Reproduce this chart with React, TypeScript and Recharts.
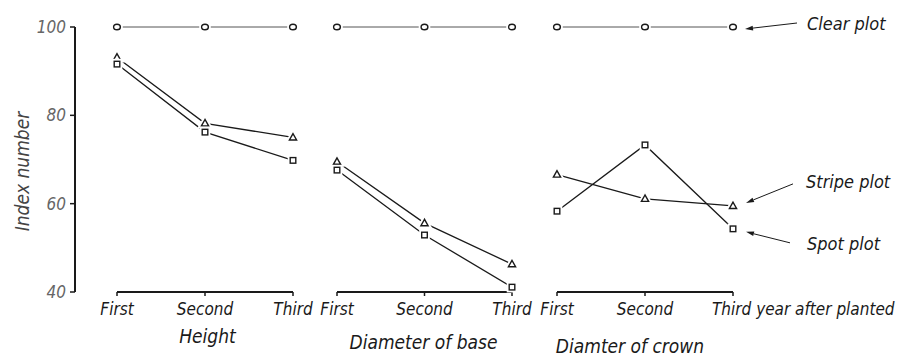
import React from "react";
import { LineChart, Line, XAxis, YAxis, ReferenceLine, LabelList } from "recharts";

const categories = ["First", "Second", "Third"];
const yTicks = [40, 60, 80, 100];

const heightClear = [100, 100, 100];
const heightStripe = [93.1, 78.2, 75.0];
const heightSpot = [91.6, 76.2, 69.8];

const baseClear = [100, 100, 100];
const baseStripe = [69.5, 55.6, 46.3];
const baseSpot = [67.6, 52.9, 41.1];

const crownClear = [100, 100, 100];
const crownStripe = [66.6, 61.1, 59.5];
const crownSpot = [58.3, 73.3, 54.3];

const panelTitles = ["Height", "Diameter of base", "Diamter of crown"];
const yLabel = "Index number";
const lastTickSuffix = "year after planted";
const seriesNames = { clear: "Clear plot", stripe: "Stripe plot", spot: "Spot plot" };

const FONT = "'DejaVu Sans Condensed', 'Liberation Sans Narrow', 'DejaVu Sans', sans-serif";
const INK = "#1a1a1a";

const rows = (clear: number[], stripe: number[], spot: number[]) =>
  categories.map((cat, i) => ({ cat, clear: clear[i], stripe: stripe[i], spot: spot[i] }));

// hollow markers with a white halo so the lines stop short of them
const marker = (kind: string) => (props: any) => {
  const { cx, cy, index } = props;
  if (cx == null || cy == null) return <g key={index} />;
  let shape: React.ReactNode;
  if (kind === "clear") {
    shape = <ellipse cx={cx} cy={cy} rx={3.4} ry={2.8} />;
  } else if (kind === "spot") {
    shape = <rect x={cx - 2.8} y={cy - 2.8} width={5.6} height={5.6} />;
  } else {
    shape = <polygon points={`${cx},${cy - 3.8} ${cx - 3.6},${cy + 2.6} ${cx + 3.6},${cy + 2.6}`} />;
  }
  return (
    <g key={index}>
      <g fill="#fff" stroke="#fff" strokeWidth={5}>{shape}</g>
      <g fill="#fff" stroke={INK} strokeWidth={1.4}>{shape}</g>
    </g>
  );
};

// arrow + name to the right of the last point in the crown panel
const arrowSpec: Record<string, { text: [number, number]; from: [number, number]; to: [number, number] }> = {
  clear: { text: [74, 3], from: [64, -4], to: [12, 2] },
  stripe: { text: [73, -18], from: [60, -22], to: [13, -3] },
  spot: { text: [74, 21], from: [57, 14], to: [13, 3] },
};

const annotation = (kind: string) => (props: any) => {
  const { x, y, index } = props;
  if (index !== categories.length - 1) return null;
  const s = arrowSpec[kind];
  const x1 = x + s.from[0], y1 = y + s.from[1];
  const x2 = x + s.to[0], y2 = y + s.to[1];
  const a = Math.atan2(y2 - y1, x2 - x1);
  const L = 8, W = 2.4;
  const bx = x2 - L * Math.cos(a), by = y2 - L * Math.sin(a);
  const px = -Math.sin(a) * W, py = Math.cos(a) * W;
  return (
    <g>
      <line x1={x1} y1={y1} x2={bx} y2={by} stroke={INK} strokeWidth={1} />
      <polygon points={`${x2},${y2} ${bx + px},${by + py} ${bx - px},${by - py}`} fill={INK} />
      <text x={x + s.text[0]} y={y + s.text[1]} fontFamily={FONT} fontStyle="italic" fontSize={18} fill={INK}>
        {seriesNames[kind as keyof typeof seriesNames]}
      </text>
    </g>
  );
};

const makeTick = (extendLast: boolean) => (props: any) => {
  const { x, y, payload } = props;
  const isLast = extendLast && payload.value === categories[categories.length - 1];
  return (
    <text
      x={isLast ? x - 21 : x}
      y={y + 17}
      textAnchor={isLast ? "start" : "middle"}
      fontFamily={FONT}
      fontStyle="italic"
      fontSize={17}
      fill={INK}
    >
      {isLast ? `${payload.value} ${lastTickSuffix}` : payload.value}
    </text>
  );
};

interface PanelProps {
  data: { cat: string; clear: number; stripe: number; spot: number }[];
  title: string;
  left: number;
  width: number;
  marginLeft: number;
  marginRight: number;
  showY: boolean;
  padLeft: number;
  padRight: number;
  titleDx: number;
  titleY: number;
  last: boolean;
}

function Panel(p: PanelProps) {
  const { data, title, left, width, marginLeft, marginRight, showY, padLeft, padRight, titleDx, titleY, last } = p;
  return (
    <div style={{ position: "absolute", left, top: 0 }}>
      <LineChart
        width={width}
        height={357}
        data={data}
        margin={{ top: 27, right: marginRight, bottom: 5, left: marginLeft }}
      >
        <XAxis
          dataKey="cat"
          axisLine={false}
          tickLine={{ stroke: INK, strokeWidth: 1.5 }}
          tickSize={4}
          tickMargin={2}
          height={60}
          interval={0}
          padding={{ left: padLeft, right: padRight }}
          tick={makeTick(last)}
          label={(lp: any) => {
            const vb = lp.viewBox;
            return (
              <text
                x={vb.x + vb.width / 2 + titleDx}
                y={titleY}
                textAnchor="middle"
                fontFamily={FONT}
                fontStyle="italic"
                fontSize={19}
                fill={INK}
              >
                {title}
              </text>
            );
          }}
        />
        <YAxis
          domain={[40, 100]}
          ticks={yTicks}
          hide={!showY}
          width={showY ? 75 : 0}
          axisLine={{ stroke: INK, strokeWidth: 2 }}
          tickLine={{ stroke: INK, strokeWidth: 1.5 }}
          tickSize={5}
          tickMargin={4}
          tick={{ fontFamily: FONT, fontStyle: "italic", fontSize: 17, fill: "#666" }}
          label={(lp: any) => {
            const vb = lp.viewBox;
            const cx = vb.x + 22;
            const cy = vb.y + vb.height / 2 + 12;
            return (
              <text
                x={cx}
                y={cy}
                transform={`rotate(-90, ${cx}, ${cy})`}
                textAnchor="middle"
                dominantBaseline="central"
                fontFamily={FONT}
                fontStyle="italic"
                fontSize={19}
                fill="#444"
              >
                {yLabel}
              </text>
            );
          }}
        />
        <ReferenceLine
          segment={[
            { x: categories[0], y: 40 },
            { x: categories[categories.length - 1], y: 40 },
          ]}
          stroke={INK}
          strokeWidth={2}
          ifOverflow="visible"
        />
        <Line dataKey="clear" stroke="#555" strokeWidth={1} dot={marker("clear")} isAnimationActive={false}>
          {last && <LabelList dataKey="clear" content={annotation("clear")} />}
        </Line>
        <Line dataKey="stripe" stroke={INK} strokeWidth={1.3} dot={marker("stripe")} isAnimationActive={false}>
          {last && <LabelList dataKey="stripe" content={annotation("stripe")} />}
        </Line>
        <Line dataKey="spot" stroke={INK} strokeWidth={1.3} dot={marker("spot")} isAnimationActive={false}>
          {last && <LabelList dataKey="spot" content={annotation("spot")} />}
        </Line>
      </LineChart>
    </div>
  );
}

export default function App() {
  return (
    <div style={{ position: "absolute", left: 0, top: 0, width: 908, height: 357, background: "#fff" }}>
      <Panel
        data={rows(heightClear, heightStripe, heightSpot)}
        title={panelTitles[0]}
        left={0}
        width={325}
        marginLeft={0}
        marginRight={25}
        showY
        padLeft={42}
        padRight={7}
        titleDx={20}
        titleY={343}
        last={false}
      />
      <Panel
        data={rows(baseClear, baseStripe, baseSpot)}
        title={panelTitles[1]}
        left={305}
        width={239}
        marginLeft={25}
        marginRight={25}
        showY={false}
        padLeft={7}
        padRight={7}
        titleDx={-1}
        titleY={349}
        last={false}
      />
      <Panel
        data={rows(crownClear, crownStripe, crownSpot)}
        title={panelTitles[2]}
        left={525}
        width={383}
        marginLeft={25}
        marginRight={168}
        showY={false}
        padLeft={7}
        padRight={7}
        titleDx={-15}
        titleY={353}
        last
      />
    </div>
  );
}
